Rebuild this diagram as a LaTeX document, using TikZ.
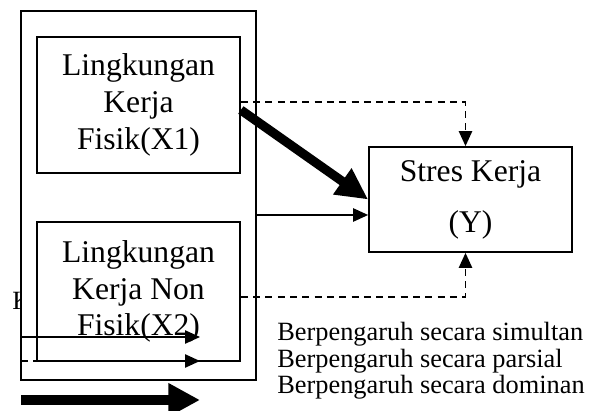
\documentclass[tikz,border=0pt]{standalone}
\usepackage{fontspec}
\setmainfont{Liberation Serif}
\usetikzlibrary{arrows.meta}

\begin{document}
\begin{tikzpicture}[x=0.02cm, y=-0.02cm,
                    box/.style = {draw, line width=1pt, fill=white, align=center, font=\fontsize{18}{21}\selectfont},
                    arrow/.style = {line width=1pt, -{Triangle[length=8.5pt,width=7.5pt]}},
                    dasharrow/.style = {arrow, dash pattern=on 4pt off 3pt},
                    bigarrow/.style = {line width=5.2pt, -{Triangle[length=18pt,width=17pt]}},
                    legend/.style = {anchor=base west, inner sep=0pt, font=\fontsize{15}{15}\selectfont}]
                    \useasboundingbox (0,0) rectangle (591,411);
                    \node[legend] (ket) at (12,310) {Keterangan :};
                    \node[box, minimum width=4.7cm, minimum height=7.38cm] (outer) at (138.5,195.5) {};
                    \node[box, minimum width=4.06cm, minimum height=2.72cm] (fisik) at (138.5,105) {Lingkungan\\Kerja\\Fisik(X1)};
                    \node[box, minimum width=4.06cm, minimum height=2.78cm] (nonfisik) at (138.5,291.5) {Lingkungan\\Kerja Non\\Fisik(X2)};
                    \node[box, minimum width=4.06cm, minimum height=2.1cm, font=\fontsize{18}{29}\selectfont] (stres) at (470.5,199.5) {Stres Kerja\\(Y)};
                    
                    \draw[dasharrow] ([yshift=0.06cm]fisik.east) -| ([xshift=-0.1cm]stres.north);
                    \draw[dasharrow] ([yshift=-0.11cm]nonfisik.east) -| ([xshift=-0.1cm]stres.south);
                    \draw[bigarrow] ([yshift=-0.1cm]fisik.east) -- (stres.west);
                    \draw[arrow] ([yshift=-0.39cm]outer.east) -- ([yshift=-0.31cm]stres.west);
                    
                    \coordinate (a1) at (21,337);
                    \coordinate (b1) at (200,337);
                    \coordinate (a2) at (21,361);
                    \coordinate (b2) at (200,361);
                    \coordinate (a3) at (21,400);
                    \coordinate (b3) at (200,400);
                    \draw[arrow] (a1) -- (b1);
                    \draw[dasharrow] (a2) -- (b2);
                    \draw[line width=6pt, -{Triangle[length=18pt,width=18pt]}] (a3) -- (b3);
                    \node[legend] (l1) at (277,341) {Berpengaruh secara simultan};
                    \node[legend] (l2) at (277,368) {Berpengaruh secara parsial};
                    \node[legend] (l3) at (277,394) {Berpengaruh secara dominan};
                    
                \end{tikzpicture}
\end{document}
